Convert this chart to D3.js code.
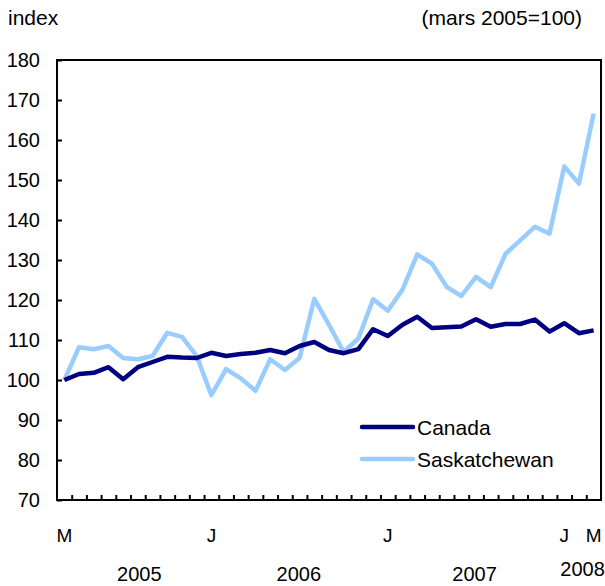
<!DOCTYPE html>
<html><head><meta charset="utf-8">
<script src="https://cdn.jsdelivr.net/npm/d3@7"></script>
<style>body{margin:0;background:#fff}svg{display:block}text{font-family:"Liberation Sans",Arial,Helvetica,sans-serif}</style>
</head><body><svg id="c" width="605" height="586"></svg>
<script>
const months = ["2005-03","2005-04","2005-05","2005-06","2005-07","2005-08","2005-09","2005-10","2005-11","2005-12",
"2006-01","2006-02","2006-03","2006-04","2006-05","2006-06","2006-07","2006-08","2006-09","2006-10","2006-11","2006-12",
"2007-01","2007-02","2007-03","2007-04","2007-05","2007-06","2007-07","2007-08","2007-09","2007-10","2007-11","2007-12",
"2008-01","2008-02","2008-03"];
const canada = [100,101.5,101.8,103.2,100.2,103.2,104.5,105.8,105.6,105.5,106.8,106,106.5,106.8,107.5,106.7,108.5,109.5,107.5,106.7,107.7,112.7,111,113.8,115.8,113,113.2,113.4,115.2,113.3,114,114,115.1,112.1,114.2,111.7,112.4];
const sask = [100,108.2,107.7,108.5,105.5,105.2,106,111.8,110.8,106,96.2,102.7,100.4,97.3,105.2,102.5,105.5,120.3,113.8,107,110.4,120.2,117.3,122.6,131.4,129.1,123.3,121,125.8,123.2,131.5,134.9,138.3,136.6,153.4,149.1,166.6];
const yTicks = [70,80,90,100,110,120,130,140,150,160,170,180];
const monthLabels = [{i:0,t:"M"},{i:10,t:"J"},{i:22,t:"J"},{i:34,t:"J"},{i:36,t:"M"}];
const yearLabels = [{x:5.1,t:"2005"},{x:15.95,t:"2006"},{x:27.9,t:"2007"},{x:35.25,t:"2008",up:true}];
const series = [{name:"Canada",values:canada,color:"#000080"},{name:"Saskatchewan",values:sask,color:"#99ccff"}];

const svg = d3.select("#c");
const L=57,R=601,T=60,B=500;
const x = d3.scaleLinear().domain([-0.5, months.length-0.5]).range([L,R]);
const y = d3.scaleLinear().domain([70,180]).range([B,T]);

svg.append("rect").attr("x",L).attr("y",T).attr("width",R-L).attr("height",B-T)
  .attr("fill","none").attr("stroke","#000").attr("stroke-width",2);

const ya = svg.append("g").attr("transform",`translate(${L},0)`)
  .call(d3.axisLeft(y).tickValues(yTicks).tickSize(-5).tickPadding(17).tickFormat(d3.format("d")));
ya.select(".domain").remove();
ya.selectAll("line").attr("stroke","#000").attr("stroke-width",2);
ya.selectAll("text").attr("font-size",20).attr("fill","#000").style("font-family",'"Liberation Sans",Arial,sans-serif');

const xa = svg.append("g").attr("transform",`translate(0,${B})`)
  .call(d3.axisBottom(x).tickValues(d3.range(0,months.length-1).map(i=>i+0.5)).tickSize(-5).tickFormat(""));
xa.select(".domain").remove();
xa.selectAll("line").attr("stroke","#000").attr("stroke-width",2);

svg.selectAll(".ml").data(monthLabels).join("text").attr("class","ml")
  .attr("x",d=>x(d.i)).attr("y",542).attr("text-anchor","middle").attr("font-size",19).text(d=>d.t);
svg.selectAll(".yl").data(yearLabels).join("text").attr("class","yl")
  .attr("x",d=>x(d.x)).attr("y",d=>d.up?576:581).attr("text-anchor","middle").attr("font-size",20).text(d=>d.t);

const line = d3.line().x((d,i)=>x(i)).y(d=>y(d));
svg.selectAll(".s").data(series.slice().reverse()).join("path").attr("class","s")
  .attr("d",d=>line(d.values)).attr("fill","none").attr("stroke",d=>d.color)
  .attr("stroke-width",4.5).attr("stroke-linejoin","round");

const lg = svg.append("g");
series.forEach((s,k)=>{
  const yy = 427 + k*32;
  lg.append("line").attr("x1",362).attr("x2",413).attr("y1",yy).attr("y2",yy)
    .attr("stroke",s.color).attr("stroke-width",4.5).attr("stroke-linecap","round");
  lg.append("text").attr("x",417).attr("y",yy+7.5).attr("font-size",21).text(s.name);
});

svg.append("text").attr("x",8).attr("y",25).attr("font-size",21).text("index");
svg.append("text").attr("x",582).attr("y",25).attr("text-anchor","end").attr("font-size",21).text("(mars 2005=100)");
</script></body></html>
